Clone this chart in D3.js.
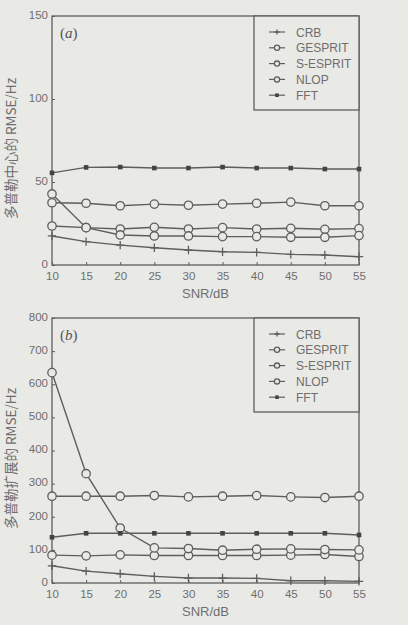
<!DOCTYPE html>
<html><head><meta charset="utf-8">
<script src="https://cdn.jsdelivr.net/npm/d3@7"></script>
<style>body{margin:0;background:#e9e9e6;}svg{display:block;}</style>
</head><body>
<svg id="c" width="408" height="625"></svg>
<script>
const snr = [10,15,20,25,30,35,40,45,50,55];
const seriesNames = ["CRB","GESPRIT","S-ESPRIT","NLOP","FFT"];
// Panel (a): Doppler centroid RMSE (Hz)
const aCRB     = [17.5,14.1,12.0,10.4,9.0,8.0,7.6,6.4,6.0,5.0];
const aGESPRIT = [37.5,37.2,35.7,36.7,36.0,36.7,37.2,37.9,35.7,35.7];
const aSESPRIT = [23.5,22.5,21.7,22.7,21.7,22.5,21.7,22.1,21.5,21.9];
const aNLOP    = [42.8,22.5,18.1,17.5,17.5,17.1,17.1,16.7,16.7,17.7];
const aFFT     = [55.5,58.8,59.0,58.4,58.4,59.0,58.4,58.4,57.8,57.8];
// Panel (b): Doppler spread RMSE (Hz)
const bCRB     = [52,36,28,20,15,15,14,7,7,5];
const bGESPRIT = [262,262,262,264,260,262,264,260,258,262];
const bSESPRIT = [84,82,85,83,83,83,83,84,86,80];
const bNLOP    = [635,330,166,106,104,99,102,103,101,100];
const bFFT     = [138,150,150,150,150,150,150,150,150,145];
const aTicksY = [0,50,100,150];
const bTicksY = [0,100,200,300,400,500,600,700,800];
const xTicks = snr;

const svg = d3.select("#c");
const lineColor = "#5e5e5e";
const textColor = "#6e6e6e";

function drawPanel(cfg){
  const g = svg.append("g");
  const x = d3.scaleLinear().domain([10,55]).range([cfg.left,cfg.right]);
  const y = d3.scaleLinear().domain(cfg.yDomain).range([cfg.bottom,cfg.top]);
  g.append("rect").attr("x",cfg.left).attr("y",cfg.top)
    .attr("width",cfg.right-cfg.left).attr("height",cfg.bottom-cfg.top)
    .attr("fill","none").attr("stroke",lineColor).attr("stroke-width",1.3);
  const ya = g.append("g").attr("transform",`translate(${cfg.left},0)`)
    .call(d3.axisLeft(y).tickValues(cfg.yTicks).tickSize(-3).tickPadding(4));
  const xa = g.append("g").attr("transform",`translate(0,${cfg.bottom})`)
    .call(d3.axisBottom(x).tickValues(xTicks).tickSize(-3).tickPadding(7));
  [ya,xa].forEach(a=>{
    a.select(".domain").remove();
    a.selectAll("line").attr("stroke",lineColor);
    a.selectAll("text").attr("fill",textColor).attr("font-family","Liberation Sans, Arial, sans-serif").attr("font-size",11.5);
  });
  ya.selectAll("text").attr("dy","0.2em");
  g.append("text").attr("x",(cfg.left+cfg.right)/2).attr("y",cfg.bottom+33)
    .attr("text-anchor","middle").attr("fill",textColor)
    .attr("font-family","Liberation Sans, Arial, sans-serif").attr("font-size",13).text("SNR/dB");
  g.append("text").attr("transform",`translate(16,${(cfg.top+cfg.bottom)/2+8}) rotate(-90)`)
    .attr("text-anchor","middle").attr("fill",textColor)
    .attr("font-family","Noto Sans CJK SC, sans-serif").attr("font-size",13.5).text(cfg.ylabel);
  g.append("text").attr("x",cfg.left+8).attr("y",cfg.top+22)
    .attr("fill","#555").attr("font-family","Liberation Serif, serif").attr("font-size",15)
    .html(`(<tspan font-style="italic">${cfg.tag}</tspan>)`);
  const types = ["plus","circle","circle","circle","star"];
  cfg.data.forEach((vals,i)=>{
    const ln = d3.line().x((d,j)=>x(snr[j])).y(d=>y(d));
    g.append("path").datum(vals).attr("d",ln).attr("fill","none")
      .attr("stroke",lineColor).attr("stroke-width",1.4);
    vals.forEach((v,j)=>drawMarker(g,types[i],x(snr[j]),y(v)));
  });
  const lx0 = cfg.right-105, ly0 = cfg.top;
  g.append("rect").attr("x",lx0).attr("y",ly0).attr("width",105).attr("height",94)
    .attr("fill","#e9e9e6").attr("stroke",lineColor).attr("stroke-width",1.3);
  seriesNames.forEach((n,i)=>{
    const yy = ly0+16+i*15.8;
    g.append("line").attr("x1",lx0+15).attr("x2",lx0+31).attr("y1",yy).attr("y2",yy)
      .attr("stroke",lineColor).attr("stroke-width",1.2);
    drawMarker(g,types[i],lx0+23,yy,true);
    g.append("text").attr("x",lx0+42).attr("y",yy+4.5).attr("fill",textColor)
      .attr("font-family","Liberation Sans, Arial, sans-serif").attr("font-size",12).text(n);
  });
}
function drawMarker(g,t,cx,cy,small){
  const r = small?2.6:4.2;
  if(t==="circle"){
    g.append("circle").attr("cx",cx).attr("cy",cy).attr("r",r)
      .attr("fill","#e9e9e6").attr("stroke",lineColor).attr("stroke-width",1.3);
  } else if(t==="plus"){
    g.append("path").attr("d",`M${cx-r},${cy}H${cx+r}M${cx},${cy-r}V${cy+r}`)
      .attr("stroke",lineColor).attr("stroke-width",1.3);
  } else {
    const s = small?3.6:4.6;
    g.append("rect").attr("x",cx-s/2).attr("y",cy-s/2).attr("width",s).attr("height",s)
      .attr("fill","#444");
  }
}
drawPanel({left:52,right:359,top:16,bottom:265,yDomain:[0,150],yTicks:aTicksY,
  ylabel:"多普勒中心的 RMSE/Hz",tag:"a",
  data:[aCRB,aGESPRIT,aSESPRIT,aNLOP,aFFT]});
drawPanel({left:52,right:359,top:318,bottom:583,yDomain:[0,800],yTicks:bTicksY,
  ylabel:"多普勒扩展的 RMSE/Hz",tag:"b",
  data:[bCRB,bGESPRIT,bSESPRIT,bNLOP,bFFT]});
</script>
</body></html>
